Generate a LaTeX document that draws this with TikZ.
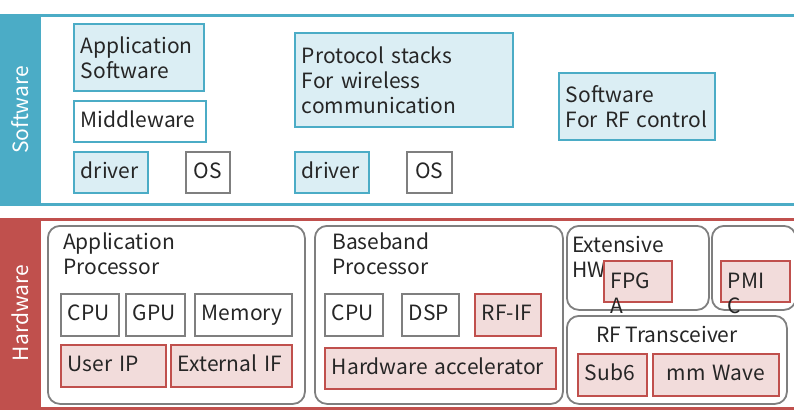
\documentclass[tikz,border=0pt]{standalone}
\usepackage{fontspec}
\setmainfont{Noto Sans CJK JP}
\usetikzlibrary{positioning}
\definecolor{swblue}{RGB}{75,172,198}
\definecolor{swfill}{RGB}{219,238,244}
\definecolor{hwred}{RGB}{192,80,77}
\definecolor{hwfill}{RGB}{242,220,219}
\definecolor{framegray}{RGB}{127,127,127}
\definecolor{ink}{RGB}{38,38,38}
\newcommand{\boxfont}{\fontsize{21}{25}\selectfont}
\tikzset{
  cell/.style 2 args={
    rectangle, anchor=north west, inner xsep=7pt, inner ysep=0pt,
    minimum width=#1, minimum height=#2, text width=#1-14,
    align=left, font=\boxfont, text=ink, line width=1.8pt
  },
  oneline/.style={text height=16.5pt, text depth=4.5pt},
  swcell/.style={draw=swblue, fill=swfill, oneline},
  swplain/.style={draw=swblue, fill=white, oneline},
  plaincell/.style={draw=framegray, fill=white, oneline},
  hwcell/.style={draw=hwred, fill=hwfill, oneline},
  multi/.style={text height={}, text depth={}},
  unit/.style 2 args={
    draw=framegray, fill=white, rounded corners=12pt, line width=1.8pt,
    anchor=north west, minimum width=#1, minimum height=#2, inner sep=0pt
  },
  title/.style={anchor=north west, inner sep=0pt, align=left,
    font=\boxfont, text=ink},
  bandlabel/.style={rotate=90, text=white, font=\boxfont, inner sep=0pt},
  band/.style={line width=3pt}
}

\begin{document}
\begin{tikzpicture}[x=1pt, y=-1pt]
  \useasboundingbox (0,0) rectangle (794,418);

  % software layer
  \fill[swblue] (0,15) rectangle (41,204);
  \draw[band, swblue] (0,15) -- (794,15) (0,204) -- (794,204);
  \node[bandlabel] (swlabel) at (20.5,110) {Software};

  \node[cell={130}{67}, swcell, multi] (appsw) at (73,23) {Application\\Software};
  \node[cell={132}{41}, swplain] (midware) at (73,100) {Middleware};
  \node[cell={74}{41}, swcell] (drvap) at (73,151) {driver};
  \node[cell={44}{41}, plaincell, align=center] (osap) at (185,151) {OS};

  \node[cell={218}{94}, swcell, multi] (protocol) at (294,32) {Protocol stacks\\For wireless\\communication};
  \node[cell={74}{41}, swcell] (drvbb) at (294,151) {driver};
  \node[cell={45}{41}, plaincell, align=center] (osbb) at (406,151) {OS};

  \node[cell={156}{67}, swcell, multi] (rfsw) at (558,72) {Software\\For~RF~control};

  % hardware layer
  \fill[hwred] (0,219) rectangle (41,408.5);
  \draw[band, hwred] (0,219) -- (794,219) (0,408.5) -- (794,408.5);
  \node[bandlabel] (hwlabel) at (20.5,313) {Hardware};

  % application processor
  \node[unit={257}{178}] (approc) at (47,225) {};
  \node[title] (aptitle) at (63,233) {Application\\Processor};
  \node[cell={58}{42}, plaincell] (apcpu) at (60,293) {CPU};
  \node[cell={59}{42}, plaincell] (apgpu) at (125,293) {GPU};
  \node[cell={97}{42}, plaincell] (apmem) at (194,293) {Memory};
  \node[cell={105}{42}, hwcell] (userip) at (60,344) {User~IP};
  \node[cell={121}{42}, hwcell] (extif) at (170,344) {External~IF};

  % baseband processor
  \node[unit={248}{178}] (bbproc) at (314,225) {};
  \node[title] (bbtitle) at (332,233) {Baseband\\Processor};
  \node[cell={58}{42}, plaincell] (bbcpu) at (324,293) {CPU};
  \node[cell={57}{42}, plaincell] (bbdsp) at (401,293) {DSP};
  \node[cell={66}{42}, hwcell] (rfif) at (474,293) {RF-IF};
  \node[cell={231}{41}, hwcell] (hwacc) at (324,347) {Hardware~accelerator};

  % extensive hw and pmic
  \node[unit={142}{84}] (exthw) at (566,225) {};
  \node[title] (exttitle) at (572,236) {Extensive\\HW};
  \node[cell={68}{41}, hwcell, text height=15pt, text depth=0pt] (fpga) at (603,260) {FPG\\A};
  \node[unit={84}{84}] (pmicbox) at (711,225) {};
  \node[cell={69}{41}, hwcell, text height=15pt, text depth=0pt] (pmic) at (720,260) {PMI\\C};

  % rf transceiver
  \node[unit={220}{88}] (rftrx) at (566,315) {};
  \node[title] (rftitle) at (596,326) {RF Transceiver};
  \node[cell={69}{42}, hwcell] (sub6) at (577,353) {Sub6};
  \node[cell={126}{42}, hwcell, align=center] (mmwave) at (652,353) {mm~Wave};
\end{tikzpicture}
\end{document}
